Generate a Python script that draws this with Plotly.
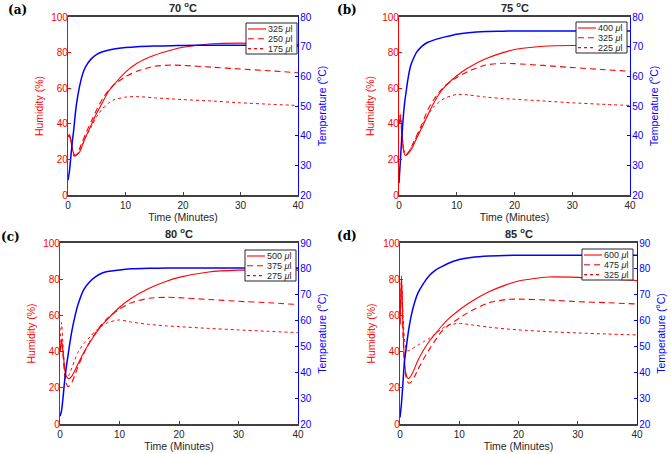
import plotly.graph_objects as go

# ---------------- data ----------------
TIME = [0, 0.25, 0.5, 0.75, 1, 1.25, 1.5, 2, 2.5, 3, 4, 5, 6, 7, 8, 10, 12, 15, 18, 20, 25, 30, 35, 40]

# Panel (a) 70 C
TEMP_A = [25, 28, 33, 38, 42, 47, 51, 56.5, 60.5, 63, 65.8, 67.4, 68.3, 68.8, 69.2, 69.7, 70, 70.2, 70.3, 70.4, 70.5, 70.5, 70.5, 70.5]
HUM_A_325 = [33, 34, 31, 26, 23, 22, 22.5, 24, 28, 32, 39, 46, 52, 58, 62, 69, 74, 78.5, 81.5, 83, 85, 85.3, 85, 84.7]
HUM_A_250 = [33, 33, 30, 25, 22, 22, 23, 26, 30, 34, 41, 48, 54, 58.5, 62, 66.5, 69.5, 72.3, 73, 72.8, 71.8, 70.8, 69.8, 68.7]
HUM_A_175 = [33, 33, 30, 26, 23, 22, 22.5, 25, 28, 32, 38, 44, 48.5, 51.5, 53.5, 55, 55.3, 54.6, 54, 53.6, 52.8, 51.8, 51, 50.3]

# Panel (b) 75 C
TEMP_B = [24, 32, 40, 46.5, 51.5, 55, 58.5, 63.5, 66, 68, 70.2, 71.5, 72.2, 72.8, 73.3, 74.2, 74.7, 75.1, 75.2, 75.3, 75.3, 75.3, 75.3, 75.3]
HUM_B_400 = [40, 44, 36, 26, 22.5, 22.3, 23, 25, 28, 31.5, 38, 45, 51.5, 57, 61, 67, 71.5, 76.5, 80, 81.7, 83.6, 84, 83.8, 83.3]
HUM_B_325 = [40, 42, 34, 26, 23, 22.5, 23.5, 26, 29.5, 33, 40, 48, 53.5, 58, 61.5, 66, 69.5, 73, 74, 73.8, 72.8, 71.6, 70.5, 69.5]
HUM_B_225 = [40, 46, 35, 27, 23, 22.5, 23.5, 26, 29, 32.5, 39, 45, 49.5, 52.5, 54.5, 56.5, 56.2, 55, 54.2, 53.8, 52.8, 51.8, 51, 50.3]

# Panel (c) 80 C
TEMP_C = [23, 25, 30, 36, 41, 45, 49, 56, 61.5, 66, 72, 75, 77, 78.3, 79, 79.6, 80, 80.2, 80.3, 80.3, 80.3, 80.3, 80.3, 80.3]
HUM_C_500 = [40, 47, 40, 32, 27, 25.5, 25, 26.5, 29.5, 33, 39.5, 45, 50, 54.5, 58, 64.5, 69.5, 75, 79, 81, 84, 85, 85.2, 85]
HUM_C_375 = [40, 45, 38, 28, 23, 21, 20.8, 23, 27, 31.5, 39, 45.5, 50.5, 55, 58.5, 63.5, 67, 69.5, 70, 69.8, 68.8, 67.8, 67, 66]
HUM_C_275 = [45, 56, 44, 32, 26.5, 25.5, 27, 31, 35.5, 39.5, 44.5, 48, 51.5, 54, 56, 57.5, 56.3, 55, 54.2, 53.8, 52.8, 52, 51.2, 50.5]

# Panel (d) 85 C
TEMP_D = [22.5, 28, 36, 44, 48.5, 53, 57, 63, 67.3, 70.5, 74.5, 77.5, 79.5, 80.8, 82, 83.6, 84.4, 85, 85.2, 85.3, 85.3, 85.3, 85.3, 85.3]
HUM_D_600 = [55, 82, 55, 35, 28, 25.5, 25.2, 27.5, 31, 35, 41, 46, 50, 54, 57.5, 63, 67.5, 73, 77, 79, 81.2, 81, 80.2, 79.3]
HUM_D_475 = [55, 75, 50, 33, 26, 23.5, 22.5, 23.5, 26.5, 30, 36, 41.5, 46.5, 51, 54, 58.5, 62.5, 67, 68.8, 69, 68.5, 67.6, 67, 66.3]
HUM_D_325 = [60, 80, 60, 47, 42, 40.5, 40.5, 41.5, 42.5, 43.5, 45.5, 47.5, 50, 52.5, 54.5, 55.6, 54.8, 53.5, 52.5, 52, 51, 50.3, 49.7, 49.2]

PANEL_LABELS = ["(a)", "(b)", "(c)", "(d)"]
PANEL_TITLES = ["70 <sup>o</sup>C", "75 <sup>o</sup>C", "80 <sup>o</sup>C", "85 <sup>o</sup>C"]
VOLUMES = [["325", "250", "175"], ["400", "325", "225"], ["500", "375", "275"], ["600", "475", "325"]]
TEMPS = [TEMP_A, TEMP_B, TEMP_C, TEMP_D]
HUMS = [[HUM_A_325, HUM_A_250, HUM_A_175], [HUM_B_400, HUM_B_325, HUM_B_225],
        [HUM_C_500, HUM_C_375, HUM_C_275], [HUM_D_600, HUM_D_475, HUM_D_325]]
TEMP_RANGES = [[20, 80], [20, 80], [20, 90], [20, 90]]

# ---------------- layout ----------------
W, H = 671, 454
RED = "#ff0000"
BLUE = "#0000ff"
DARK = "#262626"
FONT = "Liberation Sans, Arial, sans-serif"
TICK_SIZE = 10
TITLE_SIZE = 10.5
# plot areas in pixels: (left, right, top, bottom)
AREAS = [(68, 298, 17, 195), (399, 630, 17, 195), (60, 298, 243, 424), (400, 637, 243, 424)]
# legend boxes in pixels: (left, top)
LEG_BOX = [(246, 23), (576, 22), (245, 250), (582, 249)]
LEG_W, LEG_H = 51, 31
LABEL_POS = [(6, 1), (335, 1), (-1, 228), (335, 227)]

def px(v):
    return v / W

def py(v):
    return 1 - v / H

fig = go.Figure()
layout = dict(width=W, height=H, margin=dict(l=0, r=0, t=0, b=0),
              paper_bgcolor="white", plot_bgcolor="white", showlegend=False,
              font=dict(family=FONT, size=11, color=DARK))
annotations = []
shapes = []
dashes = ["solid", "6px,4px", "dot"]

for i in range(4):
    xa = "x" if i == 0 else f"x{i+1}"
    ya = "y" if i == 0 else f"y{2*i+1}"
    ya2 = f"y{2*i+2}"
    l, r, t, b = AREAS[i]
    xd = [px(l), px(r)]
    yd = [py(b), py(t)]

    for j in range(3):
        fig.add_trace(go.Scatter(x=TIME, y=HUMS[i][j], xaxis=xa, yaxis=ya, mode="lines",
                                 line=dict(color=RED, width=1.1 if j < 2 else 1.0, dash=dashes[j],
                                           shape="spline", smoothing=0.6),
                                 name=f"{VOLUMES[i][j]} μl"))
    fig.add_trace(go.Scatter(x=TIME, y=TEMPS[i], xaxis=xa, yaxis=ya2, mode="lines",
                             line=dict(color=BLUE, width=1.5, shape="spline", smoothing=0.6),
                             name="Temperature"))

    xkey = "xaxis" if i == 0 else f"xaxis{i+1}"
    ykey = "yaxis" if i == 0 else f"yaxis{2*i+1}"
    y2key = f"yaxis{2*i+2}"
    layout[xkey] = dict(domain=xd, anchor=ya, range=[0, 40], tickvals=[0, 10, 20, 30, 40],
                        automargin=False,
                        showgrid=False, zeroline=False, showline=True, linecolor="#404040",
                        linewidth=1.5, mirror=True, ticks="inside", ticklen=3, tickcolor="#404040",
                        tickfont=dict(size=TICK_SIZE, color=DARK),
                        title=dict(text="Time (Minutes)", font=dict(size=TITLE_SIZE, color=DARK), standoff=2))
    layout[ykey] = dict(domain=yd, anchor=xa, range=[0, 100], tickvals=[0, 20, 40, 60, 80, 100],
                        automargin=False, ticklabelstandoff=-3,
                        showgrid=False, zeroline=False, showline=True, linecolor=RED, linewidth=1.3,
                        ticks="inside", ticklen=3, tickcolor=RED,
                        tickfont=dict(size=TICK_SIZE, color=RED),
                        title=dict(text="Humidity (%)", font=dict(size=TITLE_SIZE, color=RED), standoff=5))
    lo, hi = TEMP_RANGES[i]
    layout[y2key] = dict(domain=yd, anchor=xa, overlaying=ya, side="right", range=[lo, hi],
                         tickvals=list(range(lo, hi + 1, 10)), automargin=False, ticklabelstandoff=-1,
                         showgrid=False, zeroline=False, showline=True, linecolor=BLUE, linewidth=1.3,
                         ticks="inside", ticklen=3, tickcolor=BLUE,
                         tickfont=dict(size=TICK_SIZE, color=BLUE),
                         title=dict(text="Temperature (<sup>o</sup>C)", font=dict(size=TITLE_SIZE, color=BLUE), standoff=7))

    # legend box drawn manually (compact MATLAB-style legend)
    bl, bt = LEG_BOX[i]
    shapes.append(dict(type="rect", xref="paper", yref="paper", x0=px(bl), x1=px(bl + LEG_W),
                       y0=py(bt + LEG_H), y1=py(bt), fillcolor="white",
                       line=dict(color=DARK, width=1), layer="above"))
    for j in range(3):
        ry = bt + 6 + j * 9.8
        shapes.append(dict(type="line", xref="paper", yref="paper", x0=px(bl + 2), x1=px(bl + 20),
                           y0=py(ry), y1=py(ry), layer="above",
                           line=dict(color=RED, width=1.1, dash=dashes[j])))
        annotations.append(dict(text=f"{VOLUMES[i][j]} <i>μ</i>l", x=px(bl + 21), y=py(ry),
                                xref="paper", yref="paper", xanchor="left", yanchor="middle",
                                showarrow=False, borderpad=0, font=dict(size=9, color=DARK)))

    annotations.append(dict(text=f"<b>{PANEL_TITLES[i]}</b>", x=px((l + r) / 2), y=py(t - 1),
                            xref="paper", yref="paper", xanchor="center", yanchor="bottom",
                            showarrow=False, font=dict(size=11, color=DARK)))
    lx, ly = LABEL_POS[i]
    annotations.append(dict(text=f"<b>{PANEL_LABELS[i]}</b>", x=px(lx), y=py(ly),
                            xref="paper", yref="paper", xanchor="left", yanchor="top",
                            showarrow=False, font=dict(size=12, color="#000000",
                                                       family="DejaVu Serif, serif")))

layout["annotations"] = annotations
layout["shapes"] = shapes
fig.update_layout(**layout)
fig.write_html("out.html", config={"displayModeBar": False},
               post_script="document.body.style.margin='0';document.body.style.padding='0';")
